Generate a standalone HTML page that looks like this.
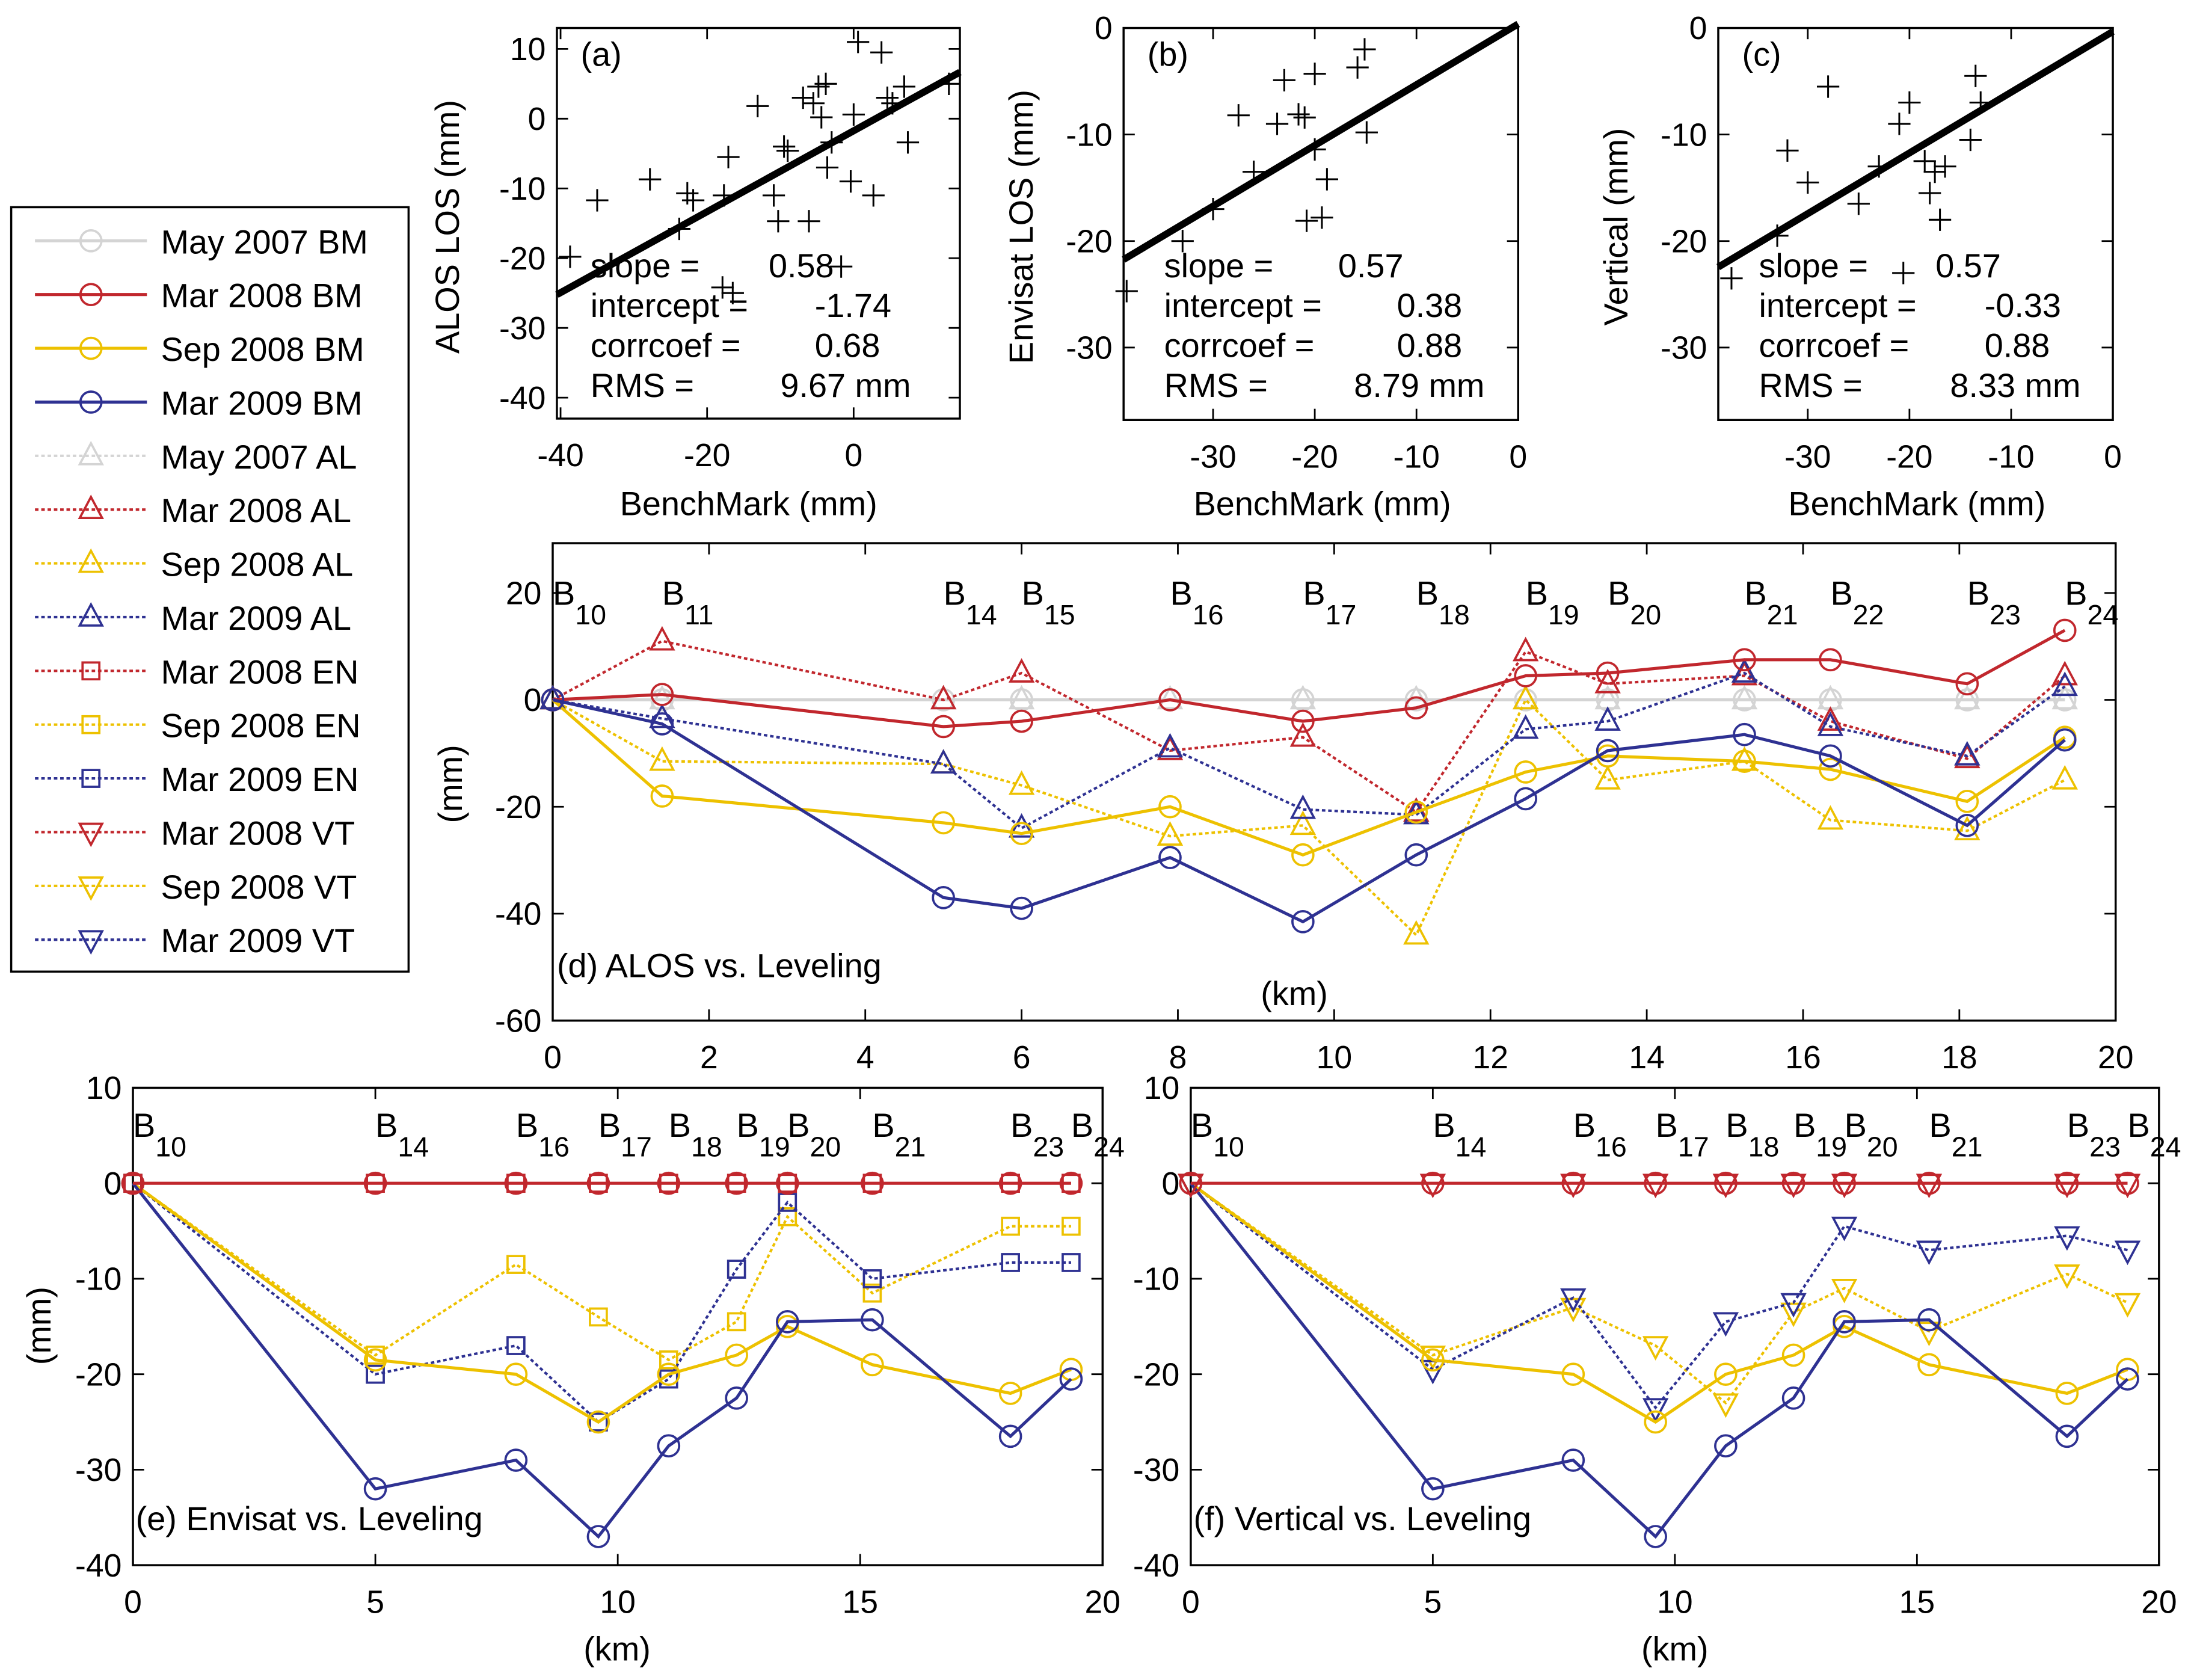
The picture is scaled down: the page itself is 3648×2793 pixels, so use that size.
<!DOCTYPE html>
<html><head><meta charset="utf-8"><style>
html,body{margin:0;padding:0;background:#fff;}
svg{display:block;font-family:"Liberation Sans",Arial,sans-serif;}
</style></head><body>
<svg id="fig" xmlns="http://www.w3.org/2000/svg" width="3648" height="2793" viewBox="0 0 1568 1200" preserveAspectRatio="none"></svg>
<script>
// ---- Data ----
const scatterA = [[-38.7,-19.8],[-35,-11.7],[-27.8,-8.7],[-23.8,-15.8],[-22.7,-10.7],[-21.9,-11.7],[-17.1,-5.5],[-17.7,-11],[-17.9,-24.2],[-16.5,-25],[-13.1,1.8],[-10.9,-11],[-9.5,-4],[-9,-4.6],[-10.3,-14.7],[-6.1,-14.7],[-6.9,3],[-5.5,2.2],[-4.8,4.6],[-3.8,5],[-4.4,0.2],[-3,-3.4],[-3.6,-7],[-1.7,-21.2],[0,0.6],[-0.4,-9],[0.6,11],[3.8,9.5],[4.6,3],[5.3,2.2],[2.7,-11],[7.4,-3.4],[6.9,4.6],[13,5]];
const scatterB = [[-38.5,-24.7],[-33,-20],[-30,-17],[-27.5,-8.2],[-26,-13.5],[-23.7,-9],[-23,-4.9],[-20,-4.3],[-21.6,-8.1],[-21,-8.4],[-20,-11.4],[-18.8,-14.2],[-20.8,-18.1],[-19.3,-17.8],[-15.8,-3.7],[-15.1,-2],[-14.9,-9.8]];
const scatterC = [[-37.5,-23.5],[-33,-19.5],[-32,-11.5],[-30,-14.5],[-28,-5.5],[-25,-16.5],[-23,-13],[-21,-9],[-20,-7],[-18.5,-12.5],[-18,-15.5],[-17.5,-13.5],[-17,-18],[-16.5,-13],[-14,-10.5],[-13.5,-4.5],[-13,-7],[-20.6,-23]];
const fitA = [0.58,-1.74], fitB = [0.57,0.38], fitC = [0.57,-0.33];

const dKm = [0,1.4,5,6,7.9,9.6,11.05,12.45,13.5,15.25,16.35,18.1,19.35];
const dNames = ['10','11','14','15','16','17','18','19','20','21','22','23','24'];
const dMay07 = [0,0,0,0,0,0,0,0,0,0,0,0,0];
const dMar08BM = [0,1,-5,-4,0,-4,-1.5,4.5,5,7.5,7.5,3,13];
const dSep08BM = [0,-18,-23,-25,-20,-29,-21,-13.5,-10.5,-11.5,-13,-19,-7];
const dMar09BM = [0,-4.5,-37,-39,-29.5,-41.5,-29,-18.5,-9.5,-6.5,-10.5,-23.5,-7.5];
const dMar08AL = [0,11,0,5,-9.5,-7,-21,9,3,4.5,-4,-11,4.5];
const dSep08AL = [0,-11.5,-12,-16,-25.5,-23.5,-44,0,-15,-11.5,-22.5,-24.5,-15];
const dMar09AL = [0,-3.5,-12,-24,-9,-20.5,-21.5,-5.5,-4,5,-5,-10.5,2.5];

const eKm = [0,5,7.9,9.6,11.05,12.45,13.5,15.25,18.1,19.35];
const eNames = ['10','14','16','17','18','19','20','21','23','24'];
const eZero = [0,0,0,0,0,0,0,0,0,0];
const eSep08BM = [0,-18.5,-20,-25,-20,-18,-15,-19,-22,-19.5];
const eMar09BM = [0,-32,-29,-37,-27.5,-22.5,-14.5,-14.3,-26.5,-20.5];
const eSep08EN = [0,-18,-8.5,-14,-18.5,-14.5,-3.5,-11.5,-4.5,-4.5];
const eMar09EN = [0,-20,-17,-25,-20.5,-9,-2,-10,-8.3,-8.3];
const fSep08VT = [0,-18,-13,-17,-23,-13.5,-11,-15.5,-9.5,-12.5];
const fMar09VT = [0,-19.5,-12,-23.5,-14.5,-12.5,-4.5,-7,-5.5,-7];

const RED='#c1272d', YEL='#edc100', BLU='#2e3192', GRY='#d4d4d4';
const NS='http://www.w3.org/2000/svg';
const svg=document.getElementById('fig');
function mk(tag,attrs,parent){const e=document.createElementNS(NS,tag);for(const k in attrs)e.setAttribute(k,attrs[k]);(parent||svg).appendChild(e);return e;}
function txt(x,y,s,size,parent,anchor){const t=mk('text',{x:x,y:y,'font-size':size,'text-anchor':anchor||'start',fill:'#000'},parent);t.textContent=s;return t;}

function axes(name,x0,x1,y0,y1,xmin,xmax,ymin,ymax,xt,yt){
  const g=mk('g',{});
  
  
  const sx=v=>x0+(v-xmin)/(xmax-xmin)*(x1-x0);
  const sy=v=>y1-(v-ymin)/(ymax-ymin)*(y1-y0);
  mk('rect',{x:x0,y:y0,width:x1-x0,height:y1-y0,fill:'none',stroke:'#000','stroke-width':1.5},g);
  xt.forEach(v=>{const X=sx(v);mk('line',{x1:X,y1:y1,x2:X,y2:y1-8,stroke:'#000','stroke-width':1.2},g);mk('line',{x1:X,y1:y0,x2:X,y2:y0+8,stroke:'#000','stroke-width':1.2},g);
    const t=txt(X,y1+34,String(v),23,g,'middle');});
  yt.forEach(v=>{const Y=sy(v);mk('line',{x1:x0,y1:Y,x2:x0+8,y2:Y,stroke:'#000','stroke-width':1.2},g);mk('line',{x1:x1,y1:Y,x2:x1-8,y2:Y,stroke:'#000','stroke-width':1.2},g);
    const t=txt(x0-8,Y+8,String(v),23,g,'end');});
  return {g,sx,sy,x0,x1,y0,y1};
}
function marker(type,X,Y,color,parent){
  const r=7.5;
  if(type==='o')return mk('circle',{cx:X,cy:Y,r:r,fill:'none',stroke:color,'stroke-width':1.6},parent);
  if(type==='s')return mk('rect',{x:X-6,y:Y-6,width:12,height:12,fill:'none',stroke:color,'stroke-width':1.6},parent);
  if(type==='^')return mk('polygon',{points:`${X},${Y-9} ${X-8},${Y+6} ${X+8},${Y+6}`,fill:'none',stroke:color,'stroke-width':1.6},parent);
  if(type==='v')return mk('polygon',{points:`${X},${Y+9} ${X-8},${Y-6} ${X+8},${Y-6}`,fill:'none',stroke:color,'stroke-width':1.6},parent);
}
function series(ax,name,xs,ys,color,dashed,mt){
  const g=mk('g',{},ax.g);
  
  
  const pts=xs.map((x,i)=>ax.sx(x)+','+ax.sy(ys[i])).join(' ');
  const a={points:pts,fill:'none',stroke:color,'stroke-width':dashed?1.8:2.2};
  if(dashed)a['stroke-dasharray']='2.5,2';
  mk('polyline',a,g);
  xs.forEach((x,i)=>marker(mt,ax.sx(x),ax.sy(ys[i]),color,g));
}
function scatter(ax,name,pts,fit,xa,xb){
  const g=mk('g',{},ax.g);
  
  
  pts.forEach(p=>{const X=ax.sx(p[0]),Y=ax.sy(p[1]);
    mk('path',{d:`M${X-8},${Y}H${X+8}M${X},${Y-8}V${Y+8}`,stroke:'#000','stroke-width':1.3},g);});
  const l=mk('line',{x1:ax.sx(xa),y1:ax.sy(fit[0]*xa+fit[1]),x2:ax.sx(xb),y2:ax.sy(fit[0]*xb+fit[1]),stroke:'#000','stroke-width':5},g);
  
  
}
function stats(x,vx,vals,name){
  const g=mk('g',{});
  
  
  const labs=['slope =','intercept =','corrcoef =','RMS ='];
  labs.forEach((l,i)=>{txt(x,198+i*28.5,l,24,g);txt(vx[i],198+i*28.5,vals[i],24,g,'end');});
}
function blabels(ax,kms,names,y){
  kms.forEach((k,i)=>{const t=mk('text',{x:ax.sx(k),y:y,'font-size':24},ax.g);
    
    
    t.textContent='B';const s=mk('tspan',{dy:14,'font-size':20},t);s.textContent=names[i];});
}

// (a)
const A=axes('panel-a',398,686,20,299,-40.5,14.5,-43,13,[-40,-20,0],[10,0,-10,-20,-30,-40]);
scatter(A,'scatter-a',scatterA,fitA,-40.5,14.5);
txt(415,47,'(a)',24,A.g);
stats(422,[596,637,629,651],['0.58','-1.74','0.68','9.67 mm'],'stats-a');
let t=txt(535,368,'BenchMark (mm)',24,null,'middle');
t=txt(0,0,'ALOS LOS (mm)',24,null,'middle');t.setAttribute('transform','translate(328,162) rotate(-90)');

// (b)
const Bx=axes('panel-b',803,1085,20,300,-38.8,0,-36.8,0,[-30,-20,-10,0],[0,-10,-20,-30]);
scatter(Bx,'scatter-b',scatterB,fitB,-38.8,0);
txt(820,47,'(b)',24,Bx.g);
stats(832,[1003,1045,1045,1061],['0.57','0.38','0.88','8.79 mm'],'stats-b');
t=txt(945,368,'BenchMark (mm)',24,null,'middle');
t=txt(0,0,'Envisat LOS (mm)',24,null,'middle');t.setAttribute('transform','translate(738,162) rotate(-90)');

// (c)
const C=axes('panel-c',1228,1510,20,300,-38.8,0,-36.8,0,[-30,-20,-10,0],[0,-10,-20,-30]);
scatter(C,'scatter-c',scatterC,fitC,-38.8,0);
txt(1245,47,'(c)',24,C.g);
stats(1257,[1430,1473,1465,1487],['0.57','-0.33','0.88','8.33 mm'],'stats-c');
t=txt(1370,368,'BenchMark (mm)',24,null,'middle');
t=txt(0,0,'Vertical (mm)',24,null,'middle');t.setAttribute('transform','translate(1163,162) rotate(-90)');

// (d)
const D=axes('panel-d',395,1512,388,729,0,20,-60,29.3,[0,2,4,6,8,10,12,14,16,18,20],[20,0,-20,-40,-60]);
series(D,'may2007-bm',dKm,dMay07,GRY,false,'o');
series(D,'may2007-al',dKm,dMay07,GRY,true,'^');
series(D,'sep2008-al',dKm,dSep08AL,YEL,true,'^');
series(D,'mar2008-al',dKm,dMar08AL,RED,true,'^');
series(D,'mar2009-al',dKm,dMar09AL,BLU,true,'^');
series(D,'sep2008-bm',dKm,dSep08BM,YEL,false,'o');
series(D,'mar2008-bm',dKm,dMar08BM,RED,false,'o');
series(D,'mar2009-bm',dKm,dMar09BM,BLU,false,'o');
blabels(D,dKm,dNames,432);
txt(398,698,'(d) ALOS vs. Leveling',24,D.g);
txt(925,718,'(km)',24,D.g,'middle');
t=txt(0,0,'(mm)',24,null,'middle');t.setAttribute('transform','translate(330,560) rotate(-90)');

// (e)
const E=axes('panel-e',95,788,777,1118,0,20,-40,10,[0,5,10,15,20],[10,0,-10,-20,-30,-40]);
series(E,'sep2008-en',eKm,eSep08EN,YEL,true,'s');
series(E,'mar2009-en',eKm,eMar09EN,BLU,true,'s');
series(E,'sep2008-bm',eKm,eSep08BM,YEL,false,'o');
series(E,'mar2009-bm',eKm,eMar09BM,BLU,false,'o');
series(E,'mar2008-en',eKm,eZero,RED,true,'s');
series(E,'mar2008-bm',eKm,eZero,RED,false,'o');
blabels(E,eKm,eNames,812);
txt(97,1093,'(e) Envisat vs. Leveling',24,E.g);
txt(441,1186,'(km)',24,E.g,'middle');
t=txt(0,0,'(mm)',24,null,'middle');t.setAttribute('transform','translate(36,947) rotate(-90)');

// (f)
const F=axes('panel-f',851,1543,777,1118,0,20,-40,10,[0,5,10,15,20],[10,0,-10,-20,-30,-40]);
series(F,'sep2008-vt',eKm,fSep08VT,YEL,true,'v');
series(F,'mar2009-vt',eKm,fMar09VT,BLU,true,'v');
series(F,'sep2008-bm',eKm,eSep08BM,YEL,false,'o');
series(F,'mar2009-bm',eKm,eMar09BM,BLU,false,'o');
series(F,'mar2008-vt',eKm,eZero,RED,true,'v');
series(F,'mar2008-bm',eKm,eZero,RED,false,'o');
blabels(F,eKm,eNames,812);
txt(853,1093,'(f) Vertical vs. Leveling',24,F.g);
txt(1197,1186,'(km)',24,F.g,'middle');

// legend
const L=mk('g',{});


mk('rect',{x:8,y:148,width:284,height:546,fill:'#fff',stroke:'#000','stroke-width':1.5},L);
const legNames=['May 2007 BM','Mar 2008 BM','Sep 2008 BM','Mar 2009 BM','May 2007 AL','Mar 2008 AL','Sep 2008 AL','Mar 2009 AL','Mar 2008 EN','Sep 2008 EN','Mar 2009 EN','Mar 2008 VT','Sep 2008 VT','Mar 2009 VT'];
const legCol=[GRY,RED,YEL,BLU,GRY,RED,YEL,BLU,RED,YEL,BLU,RED,YEL,BLU];
const legMk=['o','o','o','o','^','^','^','^','s','s','s','v','v','v'];
legNames.forEach((n,i)=>{
  const y=172+i*38.4;
  const e=mk('g',{},L);
  
  
  const a={x1:25,y1:y,x2:105,y2:y,stroke:legCol[i],'stroke-width':i<4?2.2:1.8};
  if(i>=4)a['stroke-dasharray']='2.5,2';
  mk('line',a,e);
  marker(legMk[i],65,y,legCol[i],e);
  txt(115,y+9,n,24,e);
});
</script>
</body></html>
